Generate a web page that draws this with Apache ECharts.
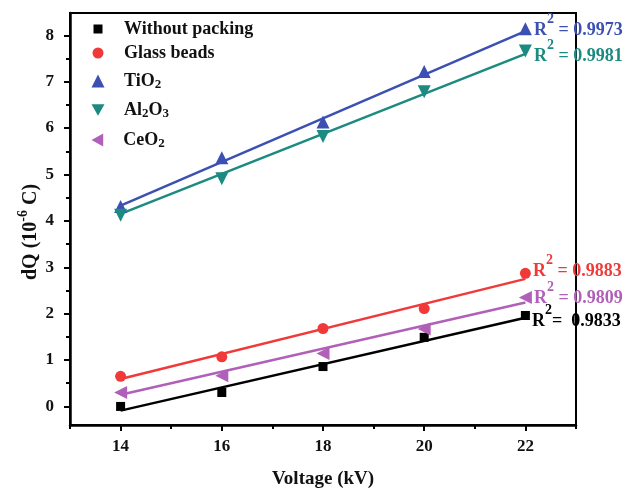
<!DOCTYPE html>
<html><head><meta charset="utf-8">
<script src="https://cdn.jsdelivr.net/npm/echarts@6/dist/echarts.min.js"></script>
<style>html,body{margin:0;padding:0;background:#fff}#c{width:630px;height:488px}</style>
</head><body><div id="c"></div>
<script>
// ---- data ----
const voltage = [14, 16, 18, 20, 22];
const withoutPacking = [0.00, 0.30, 0.86, 1.49, 1.96];
const glassBeads = [0.65, 1.07, 1.68, 2.11, 2.87];
const tio2 = [4.31, 5.36, 6.13, 7.22, 8.14];
const al2o3 = [4.12, 4.91, 5.82, 6.78, 7.66];
const ceo2 = [0.30, 0.66, 1.14, 1.67, 2.35];
const fitX = [14, 22];
const fitWithout = [-0.09, 1.91];
const fitGlass = [0.59, 2.75];
const fitTio2 = [4.33, 8.09];
const fitAl2o3 = [4.15, 7.60];
const fitCeo2 = [0.25, 2.24];
const r2Text = ['R{p|2}=  0.9833', 'R{p|2} = 0.9883', 'R{p|2} = 0.9973', 'R{p|2} = 0.9981', 'R{p|2} = 0.9809'];
const seriesNames = ['Without packing', 'Glass beads', 'TiO2', 'Al2O3', 'CeO2'];
const legendLabels = ['Without packing', 'Glass beads', 'TiO{s|2}', 'Al{s|2}O{s|3}', 'CeO{s|2}'];
const xMajorTicks = [14, 16, 18, 20, 22];
const xMinorTicks = [13, 15, 17, 19, 21, 23];
const yMajorTicks = [0, 1, 2, 3, 4, 5, 6, 7, 8];
const yMinorTicks = [0.5, 1.5, 2.5, 3.5, 4.5, 5.5, 6.5, 7.5];

// ---- styles ----
const FONT = '"Liberation Serif", "Times New Roman", serif';
const colors = ['#000000', '#f03a3a', '#3b50b2', '#1b8a80', '#b060b8'];
const symbols = ['rect', 'circle', 'triangle', 'path://M0,0 L10,0 L5,9 Z', 'path://M0,5 L9,0 L9,10 Z'];
const symbolSizes = [9, 11, 13, 13, 13];
const legendSizes = [9, 11, 13, 13, 13];
const labelOffsets = [[0, 6], [0, -2], [0, 2], [0, 5], [0, 1]];
const legendTops = [19, 43, 71, 100, 130];
const values = [withoutPacking, glassBeads, tio2, al2o3, ceo2];
const fits = [fitWithout, fitGlass, fitTio2, fitAl2o3, fitCeo2];

const series = [];
for (let i = 0; i < 5; i++) {
  series.push({
    type: 'line', name: seriesNames[i] + ' fit', data: fitX.map((x, k) => [x, fits[i][k]]),
    showSymbol: false, symbol: 'none', lineStyle: { color: colors[i], width: 2.5 },
    z: 2, silent: true, animation: false
  });
}
for (let i = 0; i < 5; i++) {
  const data = voltage.map((x, k) => {
    const item = { value: [x, values[i][k]] };
    if (k === voltage.length - 1) {
      item.label = {
        show: true, position: 'right', distance: 2, offset: labelOffsets[i],
        formatter: r2Text[i], color: colors[i], fontFamily: FONT, fontWeight: 'bold',
        fontSize: 18, lineHeight: 36,
        rich: { p: { fontFamily: FONT, fontWeight: 'bold', fontSize: 14, lineHeight: 14, verticalAlign: 'top', color: colors[i] } }
      };
    }
    return item;
  });
  series.push({
    type: 'scatter', name: seriesNames[i], data: data, symbol: symbols[i], symbolSize: symbolSizes[i],
    itemStyle: { color: colors[i], opacity: 1 }, z: 5, clip: false, animation: false
  });
}

const legends = seriesNames.map((n, i) => ({
  data: [n], orient: 'vertical', left: 98 - legendSizes[i] / 2, top: legendTops[i], padding: 0,
  itemWidth: legendSizes[i], itemHeight: legendSizes[i], itemGap: 0, selectedMode: false,
  itemStyle: { opacity: 1 },
  formatter: () => legendLabels[i],
  textStyle: {
    fontFamily: FONT, fontWeight: 'bold', fontSize: 18, color: '#111', lineHeight: 20,
    padding: [0, 0, 0, 21 - legendSizes[i] / 2],
    rich: { s: { fontFamily: FONT, fontWeight: 'bold', fontSize: 13, lineHeight: 12, verticalAlign: 'bottom', color: '#111' } }
  }
}));

const axisLabelStyle = { fontFamily: FONT, fontWeight: 'bold', fontSize: 17, color: '#111' };

const option = {
  backgroundColor: '#fff',
  animation: false,
  grid: { left: 70, right: 54, top: 13, bottom: 63, containLabel: false, outerBoundsMode: 'none',
          show: true, borderColor: '#000', borderWidth: 2 },
  legend: legends,
  xAxis: [{
    type: 'value', min: 13, max: 23, position: 'bottom',
    axisLine: { show: true, onZero: false, lineStyle: { color: '#000', width: 2.5 } },
    axisTick: { show: true, inside: false, length: 6, customValues: xMajorTicks, lineStyle: { color: '#000', width: 2 } },
    axisLabel: { show: true, margin: 13, customValues: xMajorTicks, ...axisLabelStyle },
    splitLine: { show: false },
    name: 'Voltage (kV)', nameLocation: 'middle', nameGap: 45, nameMoveOverlap: false,
    nameTextStyle: { fontFamily: FONT, fontWeight: 'bold', fontSize: 19, color: '#111' }
  }, {
    type: 'value', min: 13, max: 23, position: 'bottom', gridIndex: 0,
    axisLine: { show: false, onZero: false },
    axisTick: { show: true, inside: false, length: 4, customValues: xMinorTicks, lineStyle: { color: '#000', width: 2 } },
    axisLabel: { show: false }, splitLine: { show: false }
  }],
  yAxis: [{
    type: 'value', min: -0.4, max: 8.48, position: 'left',
    axisLine: { show: true, onZero: false, lineStyle: { color: '#000', width: 2.5 } },
    axisTick: { show: true, inside: false, length: 6, customValues: yMajorTicks, lineStyle: { color: '#000', width: 2 } },
    axisLabel: { show: true, margin: 16, customValues: yMajorTicks, ...axisLabelStyle },
    splitLine: { show: false },
    name: 'dQ (10{sup|-6} C)', nameLocation: 'middle', nameGap: 24, nameRotate: 90, nameMoveOverlap: false,
    nameTextStyle: {
      fontFamily: FONT, fontWeight: 'bold', fontSize: 20, color: '#111', lineHeight: 30,
      padding: [0, 26, 0, 0],
      rich: { sup: { fontFamily: FONT, fontWeight: 'bold', fontSize: 14, lineHeight: 12, verticalAlign: 'top', color: '#111' } }
    }
  }, {
    type: 'value', min: -0.4, max: 8.48, position: 'left', gridIndex: 0,
    axisLine: { show: false, onZero: false },
    axisTick: { show: true, inside: false, length: 4, customValues: yMinorTicks, lineStyle: { color: '#000', width: 2 } },
    axisLabel: { show: false }, splitLine: { show: false }
  }],
  series: series
};
const chart = echarts.init(document.getElementById('c'), null, { renderer: 'canvas' });
chart.setOption(option);
</script>
</body></html>
